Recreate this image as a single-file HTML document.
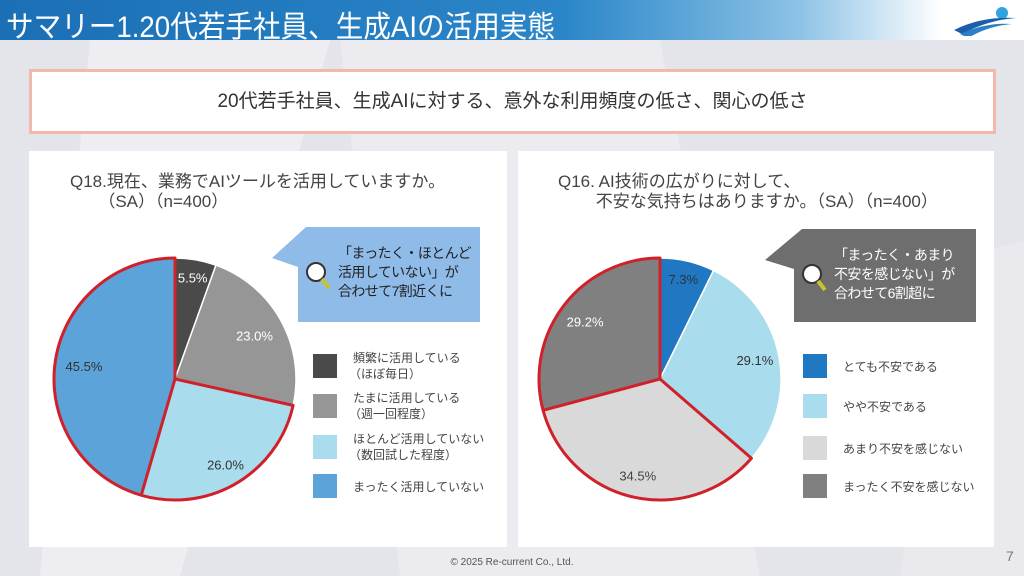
<!DOCTYPE html>
<html><head><meta charset="utf-8">
<style>
body{margin:0;width:1024px;height:576px;overflow:hidden;position:relative;font-family:"Liberation Sans","Noto Sans CJK JP",sans-serif;background:#e4e5ea;}
.abs{position:absolute;}
#bg{left:0;top:0;width:1024px;height:576px;}
#header{left:0;top:0;width:1024px;height:40px;background:linear-gradient(90deg,#1b6fb5 0%,#2a86c8 55%,#8cc2e6 78%,#ffffff 92%);}
#title{left:6px;top:2px;color:#fff;font-size:30px;font-weight:normal;white-space:nowrap;transform:scaleX(0.92);transform-origin:left top;}
#summary{left:29px;top:69px;width:961px;height:59px;background:#fff;border:3px solid #f2b8ac;text-align:center;line-height:59px;font-size:19px;font-weight:normal;color:#333;}
.panel{top:151px;height:396px;background:#fff;}
.q{font-size:17px;color:#444;line-height:20px;white-space:nowrap;}
#footer{left:0;top:557px;width:1024px;text-align:center;font-size:10px;color:#555;}
#pageno{left:1006px;top:548px;font-size:14px;color:#777;}
</style></head><body>
<svg id="bg" class="abs" width="1024" height="576">
<polygon points="90,40 330,40 180,576 40,576" fill="#eeeef2"/>
<polygon points="340,40 660,40 760,576 400,576" fill="#ebebf0"/>
<polygon points="950,260 1024,240 1024,576 900,576" fill="#e9e9ee"/>
</svg>
<div id="header" class="abs"></div>
<div id="title" class="abs">サマリー1.20代若手社員、生成AIの活用実態</div>
<svg class="abs" style="left:952px;top:6px" width="66" height="30">
<circle cx="50" cy="7" r="6" fill="#2fa4e0"/>
<path d="M2,24 Q30,10 64,12 Q36,14 10,28Z" fill="#1a5fa8"/>
<path d="M8,28 Q34,16 60,18 Q36,20 16,32Z" fill="#2b7fc6"/>
</svg>
<div id="summary" class="abs">20代若手社員、生成AIに対する、意外な利用頻度の低さ、関心の低さ</div>

<div class="abs panel" style="left:29px;width:478px"></div>
<div class="abs panel" style="left:518px;width:476px"></div>

<div class="abs q" style="left:70px;top:172px">Q18.現在、業務でAIツールを活用していますか。<br>&nbsp;&nbsp;&nbsp;&nbsp;&nbsp;&nbsp;（SA）（n=400）</div>
<div class="abs q" style="left:558px;top:172px">Q16. AI技術の広がりに対して、<br>&nbsp;&nbsp;&nbsp;&nbsp;&nbsp;&nbsp;&nbsp;&nbsp;不安な気持ちはありますか。（SA）（n=400）</div>

<svg class="abs" style="left:0;top:0" width="1024" height="576" id="charts"></svg>

<div id="footer" class="abs">© 2025 Re-current Co., Ltd.</div>
<div id="pageno" class="abs">7</div>

<script>
const leftCategories=["頻繁に活用している（ほぼ毎日）","たまに活用している（週一回程度）","ほとんど活用していない（数回試した程度）","まったく活用していない"];
const leftValues=[5.5,23.0,26.0,45.5];
const leftLabels=["5.5%","23.0%","26.0%","45.5%"];
const leftHighlight=[2,3];
const rightCategories=["とても不安である","やや不安である","あまり不安を感じない","まったく不安を感じない"];
const rightValues=[7.3,29.1,34.5,29.2];
const rightLabels=["7.3%","29.1%","34.5%","29.2%"];
const rightHighlight=[2,3];

const NS="http://www.w3.org/2000/svg";
const svg=document.getElementById('charts');
function mk(tag,attrs){const e=document.createElementNS(NS,tag);for(const k in attrs)e.setAttribute(k,attrs[k]);svg.appendChild(e);return e;}
function pt(cx,cy,r,a){return [cx+r*Math.sin(a),cy-r*Math.cos(a)];}
function arcPath(cx,cy,r,a0,a1){const p0=pt(cx,cy,r,a0),p1=pt(cx,cy,r,a1);const large=(a1-a0)>Math.PI?1:0;
 return `M${cx},${cy}L${p0[0]},${p0[1]}A${r},${r} 0 ${large} 1 ${p1[0]},${p1[1]}Z`;}
function pie(cx,cy,r,vals,labels,colors,labelColors,labelR,hl,prefix){
 const tot=vals.reduce((a,b)=>a+b,0);let a=0;const angs=[];
 vals.forEach((v,i)=>{const a1=a+v/tot*2*Math.PI;angs.push([a,a1]);
  const p=mk('path',{d:arcPath(cx,cy,r,a,a1),fill:colors[i],stroke:'#fff','stroke-width':1.5});
  
  
  a=a1;});
 const h0=angs[hl[0]][0],h1=angs[hl[hl.length-1]][1];
 const o=mk('path',{d:arcPath(cx,cy,r,h0,h1),fill:'none',stroke:'#d0212a','stroke-width':3,'stroke-linejoin':'round'});
 
 
 hl.slice(1).forEach(i=>{const p=pt(cx,cy,r,angs[i][0]);
  const l=mk('line',{x1:cx,y1:cy,x2:p[0],y2:p[1],stroke:'#d0212a','stroke-width':3});
  
  });
 vals.forEach((v,i)=>{const m=(angs[i][0]+angs[i][1])/2;const p=pt(cx,cy,r*labelR[i],m);
  const t=mk('text',{x:p[0],y:p[1]+5,'text-anchor':'middle','font-size':13,fill:labelColors[i],'font-family':'"Liberation Sans",sans-serif'});
  t.textContent=labels[i];
  
  });
}
pie(175,379,121,leftValues,leftLabels,['#4a4a4a','#969696','#a9dcec','#5ba3d9'],['#fff','#fff','#333','#333'],[0.85,0.75,0.82,0.76],leftHighlight,'left-pie');
pie(660,379,121,rightValues,rightLabels,['#1f78c1','#a9dcec','#d9d9d9','#808080'],['#333','#333','#444','#fff'],[0.85,0.8,0.82,0.78],rightHighlight,'right-pie');

function legend(x,ys,cats,colors,prefix){
 cats.forEach((c,i)=>{const r=mk('rect',{x:x,y:ys[i],width:24,height:24,fill:colors[i]});
  
  
  const parts=c.split('（');
  const t=mk('text',{x:x+40,y:ys[i]+(parts.length>1?8:17),'font-size':12,fill:'#444'});
  
  
  const s1=document.createElementNS(NS,'tspan');s1.textContent=parts[0];t.appendChild(s1);
  if(parts.length>1){const s2=document.createElementNS(NS,'tspan');s2.setAttribute('x',x+36);s2.setAttribute('dy',16);s2.textContent='（'+parts[1];t.appendChild(s2);}
 });
}
legend(313,[354,394,435,474],leftCategories,['#4a4a4a','#969696','#a9dcec','#5ba3d9'],'left');
legend(803,[354,394,436,474],rightCategories,['#1f78c1','#a9dcec','#d9d9d9','#808080'],'right');

function callout(x,y,w,h,tipx,tipy,fill,lines,tc,prefix){
 const g=mk('path',{d:`M${x},${y}H${x+w}V${y+h}H${x}V${y+40}L${tipx},${tipy}L${x+8},${y}Z`,fill:fill});
 
 
 const c=mk('circle',{cx:x+18,cy:y+45,r:9,fill:'#fff',stroke:'#333','stroke-width':2});
 
 
 const l=mk('line',{x1:x+24,y1:y+52,x2:x+31,y2:y+61,stroke:'#c9c22a','stroke-width':4});
 
 
 lines.forEach((s,i)=>{const t=mk('text',{x:x+40,y:y+31+i*19,'font-size':14,'letter-spacing':-0.6,fill:tc});t.textContent=s;
  
  });
}
callout(298,227,182,95,272,258,'#8fbbe8',['「まったく・ほとんど','活用していない」が','合わせて7割近くに'],'#222','left');
callout(794,229,182,93,765,260,'#6e6e6e',['「まったく・あまり','不安を感じない」が','合わせて6割超に'],'#fff','right');
</script>
</body></html>
